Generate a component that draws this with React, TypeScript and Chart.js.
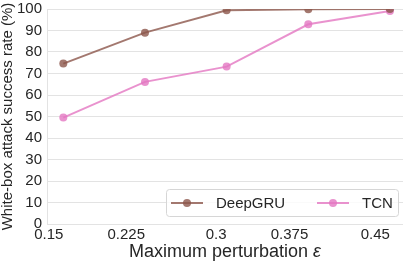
import React, { useEffect, useRef } from "react";
import { Chart, registerables } from "chart.js";

Chart.register(...registerables);

const EPSILONS = [0.15, 0.225, 0.3, 0.375, 0.45];
const X_TICK_LABELS = ["0.15", "0.225", "0.3", "0.375", "0.45"];
const DEEPGRU = [74.6, 89.0, 99.4, 99.9, 100.0];
const TCN = [49.5, 66.1, 73.2, 92.9, 99.1];
const SERIES_NAMES = ["DeepGRU", "TCN"];
const Y_TITLE = "White-box attack success rate (%)";
const X_TITLE_MAIN = "Maximum perturbation ";
const X_TITLE_SYMBOL = "ε";

const FONT = "'Liberation Sans', Arial, sans-serif";
const TEXT = "#262626";
const GRID = "#e3e3e3";
const BROWN = "rgba(140,86,75,0.8)";
const PINK = "rgba(227,119,194,0.8)";

const xTitlePlugin = {
  id: "xTitle",
  afterDraw(chart: any) {
    const ctx = chart.ctx as CanvasRenderingContext2D;
    const area = chart.chartArea;
    ctx.save();
    ctx.fillStyle = TEXT;
    ctx.textBaseline = "alphabetic";
    ctx.textAlign = "left";
    ctx.font = `18px ${FONT}`;
    const w1 = ctx.measureText(X_TITLE_MAIN).width;
    ctx.font = `italic 18px ${FONT}`;
    const w2 = ctx.measureText(X_TITLE_SYMBOL).width;
    const cx = (area.left + area.right) / 2;
    const x0 = cx - (w1 + w2) / 2;
    const y = chart.height - 5;
    ctx.font = `18px ${FONT}`;
    ctx.fillText(X_TITLE_MAIN, x0, y);
    ctx.font = `italic 18px ${FONT}`;
    ctx.fillText(X_TITLE_SYMBOL, x0 + w1, y);
    ctx.restore();
  },
};

const legendPlugin = {
  id: "customLegend",
  afterDraw(chart: any) {
    const ctx = chart.ctx as CanvasRenderingContext2D;
    const area = chart.chartArea;
    const right = area.right - 5;
    const bottom = area.bottom - 8;
    const w = 232;
    const h = 27;
    const left = right - w;
    const top = bottom - h;
    ctx.save();
    ctx.beginPath();
    (ctx as any).roundRect(left + 0.5, top + 0.5, w, h, 3);
    ctx.fillStyle = "rgba(255,255,255,0.8)";
    ctx.fill();
    ctx.strokeStyle = "#d6d6d6";
    ctx.lineWidth = 1;
    ctx.stroke();
    const cy = top + h / 2 + 0.5;
    const items = [
      { name: SERIES_NAMES[0], color: BROWN, x: left + 5 },
      { name: SERIES_NAMES[1], color: PINK, x: left + 151 },
    ];
    ctx.font = `15px ${FONT}`;
    ctx.textBaseline = "middle";
    ctx.textAlign = "left";
    for (const it of items) {
      ctx.strokeStyle = it.color;
      ctx.lineWidth = 2;
      ctx.beginPath();
      ctx.moveTo(it.x, cy);
      ctx.lineTo(it.x + 32, cy);
      ctx.stroke();
      ctx.fillStyle = it.color;
      ctx.beginPath();
      ctx.arc(it.x + 16, cy, 4, 0, Math.PI * 2);
      ctx.fill();
      ctx.fillStyle = TEXT;
      ctx.fillText(it.name, it.x + 45, cy + 1);
    }
    ctx.restore();
  },
};

export default function App() {
  const ref = useRef<HTMLCanvasElement | null>(null);

  useEffect(() => {
    if (!ref.current) return;
    const makeData = (vals: number[]) => EPSILONS.map((x, i) => ({ x, y: vals[i] }));
    const chart = new Chart(ref.current, {
      type: "line",
      data: {
        datasets: [
          {
            label: SERIES_NAMES[0],
            data: makeData(DEEPGRU),
            borderColor: BROWN,
            backgroundColor: BROWN,
            pointBackgroundColor: BROWN,
            pointBorderWidth: 0,
            pointRadius: 4,
            borderWidth: 2,
            tension: 0,
          },
          {
            label: SERIES_NAMES[1],
            data: makeData(TCN),
            borderColor: PINK,
            backgroundColor: PINK,
            pointBackgroundColor: PINK,
            pointBorderWidth: 0,
            pointRadius: 4,
            borderWidth: 2,
            tension: 0,
          },
        ],
      },
      options: {
        animation: false,
        responsive: false,
        events: [],
        layout: { padding: { top: 9, right: 4, left: 0, bottom: 0 } },
        plugins: {
          legend: { display: false },
          tooltip: { enabled: false },
        },
        scales: {
          x: {
            type: "linear",
            min: 0.135,
            max: 0.462,
            afterBuildTicks: (scale: any) => {
              scale.ticks = EPSILONS.map((v) => ({ value: v }));
            },
            afterFit: (scale: any) => {
              scale.height = 38;
              scale.paddingRight = 0;
            },
            grid: { display: false, drawTicks: false },
            border: { display: false },
            ticks: {
              align: "end",
              padding: 2,
              color: TEXT,
              font: { family: FONT, size: 15 },
              callback: (v: any) => {
                const i = EPSILONS.findIndex((e) => Math.abs(e - Number(v)) < 1e-9);
                return i >= 0 ? X_TICK_LABELS[i] : "";
              },
            },
          },
          y: {
            min: 0,
            max: 100,
            afterFit: (scale: any) => {
              scale.width = 47;
              scale.paddingTop = 0;
              scale.paddingBottom = 0;
            },
            grid: { color: GRID, lineWidth: 1, drawTicks: false, tickLength: 0 },
            border: { display: true, color: GRID, width: 1 },
            ticks: {
              stepSize: 10,
              padding: 5,
              color: TEXT,
              font: { family: FONT, size: 15 },
            },
            title: {
              display: true,
              text: Y_TITLE,
              color: TEXT,
              padding: 0,
              font: { family: FONT, size: 15, lineHeight: 1 },
            },
          },
        },
      },
      plugins: [legendPlugin, xTitlePlugin],
    } as any);
    return () => chart.destroy();
  }, []);

  return (
    <div style={{ position: "absolute", left: 0, top: 0, width: 407, height: 262, background: "#fff" }}>
      <canvas ref={ref} width={407} height={262} style={{ display: "block" }} />
    </div>
  );
}
